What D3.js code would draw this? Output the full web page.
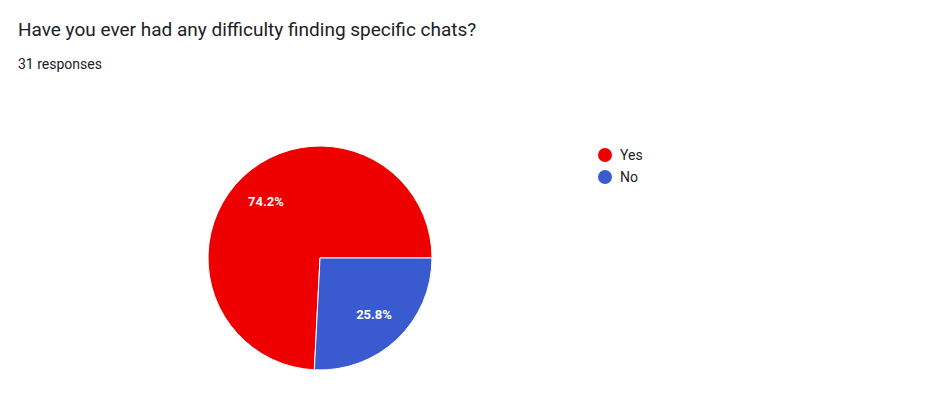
<!DOCTYPE html>
<html><head><meta charset="utf-8">
<script src="https://cdn.jsdelivr.net/npm/d3@7"></script>
<style>body{margin:0;background:#fff;font-family:Roboto,Arial,sans-serif}</style>
</head><body>
<svg id="c" width="939" height="403"></svg>
<script>
const categories = ["Yes", "No"];
const values = [74.2, 25.8];
const colors = ["#ef0000", "#3a5bcf"];
const title = "Have you ever had any difficulty finding specific chats?";
const subtitle = "31 responses";

const svg = d3.select("#c");
svg.append("text").attr("x", 18).attr("y", 36).attr("font-size", 19).attr("fill", "#202124").text(title);
svg.append("text").attr("x", 18).attr("y", 69).attr("font-size", 14).attr("fill", "#202124").text(subtitle);

const cx = 320, cy = 258, r = 112;
const start = -(values[0] / 100 * 360 - 90) * Math.PI / 180;
const pie = d3.pie().sort(null).startAngle(start).endAngle(start + 2 * Math.PI).value(d => d);
const arcs = pie(values);
const arc = d3.arc().innerRadius(0).outerRadius(r);
const g = svg.append("g").attr("transform", `translate(${cx},${cy})`);
g.selectAll("path").data(arcs).join("path").attr("d", arc)
  .attr("fill", (d, i) => colors[i]).attr("stroke", "#fff").attr("stroke-width", 1);
const lab = d3.arc().innerRadius(r * 0.7).outerRadius(r * 0.7);
g.selectAll("text").data(arcs).join("text")
  .attr("transform", d => `translate(${lab.centroid(d)})`)
  .attr("text-anchor", "middle").attr("dy", "0.35em")
  .attr("font-size", 13).attr("font-weight", "bold").attr("fill", "#fff")
  .text(d => d.data.toFixed(1) + "%");

const lg = svg.append("g");
categories.forEach((c, i) => {
  lg.append("circle").attr("cx", 605).attr("cy", 155 + i * 22).attr("r", 7).attr("fill", colors[i]);
  lg.append("text").attr("x", 620).attr("y", 155 + i * 22).attr("dy", "0.35em")
    .attr("font-size", 14).attr("fill", "#222").text(c);
});
</script>
</body></html>
